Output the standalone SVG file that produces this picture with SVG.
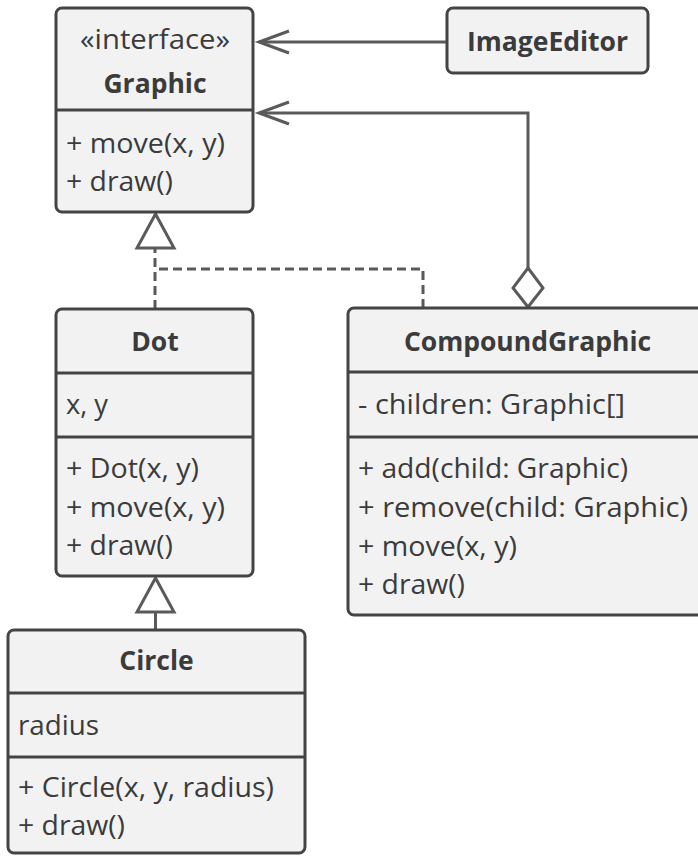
<svg xmlns="http://www.w3.org/2000/svg" width="698" height="856" viewBox="0 0 698 856">
<style>
.box{fill:#f2f2f2;stroke:#444;stroke-width:3}
.div{stroke:#444;stroke-width:3}
.t{font-family:"Open Sans","Noto Sans","Liberation Sans",sans-serif;font-size:28px;fill:#3b3b3b}
.b{font-weight:bold;text-anchor:middle;font-size:26.5px}
.c{text-anchor:middle}
.ln{fill:none;stroke:#5a5a5a;stroke-width:3}
.dash{fill:none;stroke:#5a5a5a;stroke-width:3;stroke-dasharray:9 5}
.head{fill:#fff;stroke:#5a5a5a;stroke-width:3;stroke-linejoin:miter}
</style>
<rect width="698" height="856" fill="#fff"/>
<g id="connectors">
  <line class="ln" x1="447" y1="42" x2="259" y2="42"/>
  <polyline class="ln" points="289,31 259,42 289,53"/>
  <path class="ln" d="M528,268 V113 H259"/>
  <polyline class="ln" points="289,102 259,113 289,124"/>
  <polygon class="head" points="528,268 543,288 528,307 513,288"/>
  <path class="dash" d="M155,309 V248"/>
  <path class="dash" d="M423,308 V269 H155"/>
  <polygon class="head" points="155.5,214 137,248 174,248"/>
  <line class="ln" x1="155.5" y1="612" x2="155.5" y2="630"/>
  <polygon class="head" points="155.5,578 137,612 174,612"/>
</g>
<g id="Graphic">
  <rect class="box" x="56" y="8" width="197" height="204" rx="6"/>
  <line class="div" x1="56" y1="110" x2="253" y2="110"/>
  <text class="t c" x="155" y="49" textLength="150" lengthAdjust="spacingAndGlyphs">«interface»</text>
  <text class="t b" x="155" y="93">Graphic</text>
  <text class="t" x="66" y="153" textLength="159" lengthAdjust="spacingAndGlyphs">+ move(x, y)</text>
  <text class="t" x="66" y="191" textLength="107" lengthAdjust="spacingAndGlyphs">+ draw()</text>
</g>
<g id="ImageEditor">
  <rect class="box" x="447" y="8" width="201" height="65" rx="6"/>
  <text class="t b" x="547.5" y="51">ImageEditor</text>
</g>
<g id="Dot">
  <rect class="box" x="56" y="309" width="197" height="267" rx="6"/>
  <line class="div" x1="56" y1="373" x2="253" y2="373"/>
  <line class="div" x1="56" y1="437" x2="253" y2="437"/>
  <text class="t b" x="155" y="351">Dot</text>
  <text class="t" x="66" y="414" textLength="42" lengthAdjust="spacingAndGlyphs">x, y</text>
  <text class="t" x="66" y="478" textLength="133" lengthAdjust="spacingAndGlyphs">+ Dot(x, y)</text>
  <text class="t" x="66" y="517" textLength="159" lengthAdjust="spacingAndGlyphs">+ move(x, y)</text>
  <text class="t" x="66" y="555" textLength="107" lengthAdjust="spacingAndGlyphs">+ draw()</text>
</g>
<g id="CompoundGraphic">
  <rect class="box" x="348" y="308" width="362" height="307" rx="6"/>
  <line class="div" x1="348" y1="372" x2="710" y2="372"/>
  <line class="div" x1="348" y1="437" x2="710" y2="437"/>
  <text class="t b" x="527.5" y="351">CompoundGraphic</text>
  <text class="t" x="358" y="414" textLength="267" lengthAdjust="spacingAndGlyphs">- children: Graphic[]</text>
  <text class="t" x="358" y="478" textLength="270" lengthAdjust="spacingAndGlyphs">+ add(child: Graphic)</text>
  <text class="t" x="358" y="517" textLength="330" lengthAdjust="spacingAndGlyphs">+ remove(child: Graphic)</text>
  <text class="t" x="358" y="556" textLength="159" lengthAdjust="spacingAndGlyphs">+ move(x, y)</text>
  <text class="t" x="358" y="594" textLength="107" lengthAdjust="spacingAndGlyphs">+ draw()</text>
</g>
<g id="Circle">
  <rect class="box" x="8" y="630" width="297" height="223" rx="6"/>
  <line class="div" x1="8" y1="693" x2="305" y2="693"/>
  <line class="div" x1="8" y1="757" x2="305" y2="757"/>
  <text class="t b" x="156.5" y="670">Circle</text>
  <text class="t" x="18" y="735" textLength="81" lengthAdjust="spacingAndGlyphs">radius</text>
  <text class="t" x="18" y="797" textLength="256" lengthAdjust="spacingAndGlyphs">+ Circle(x, y, radius)</text>
  <text class="t" x="18" y="835" textLength="107" lengthAdjust="spacingAndGlyphs">+ draw()</text>
</g>
</svg>
